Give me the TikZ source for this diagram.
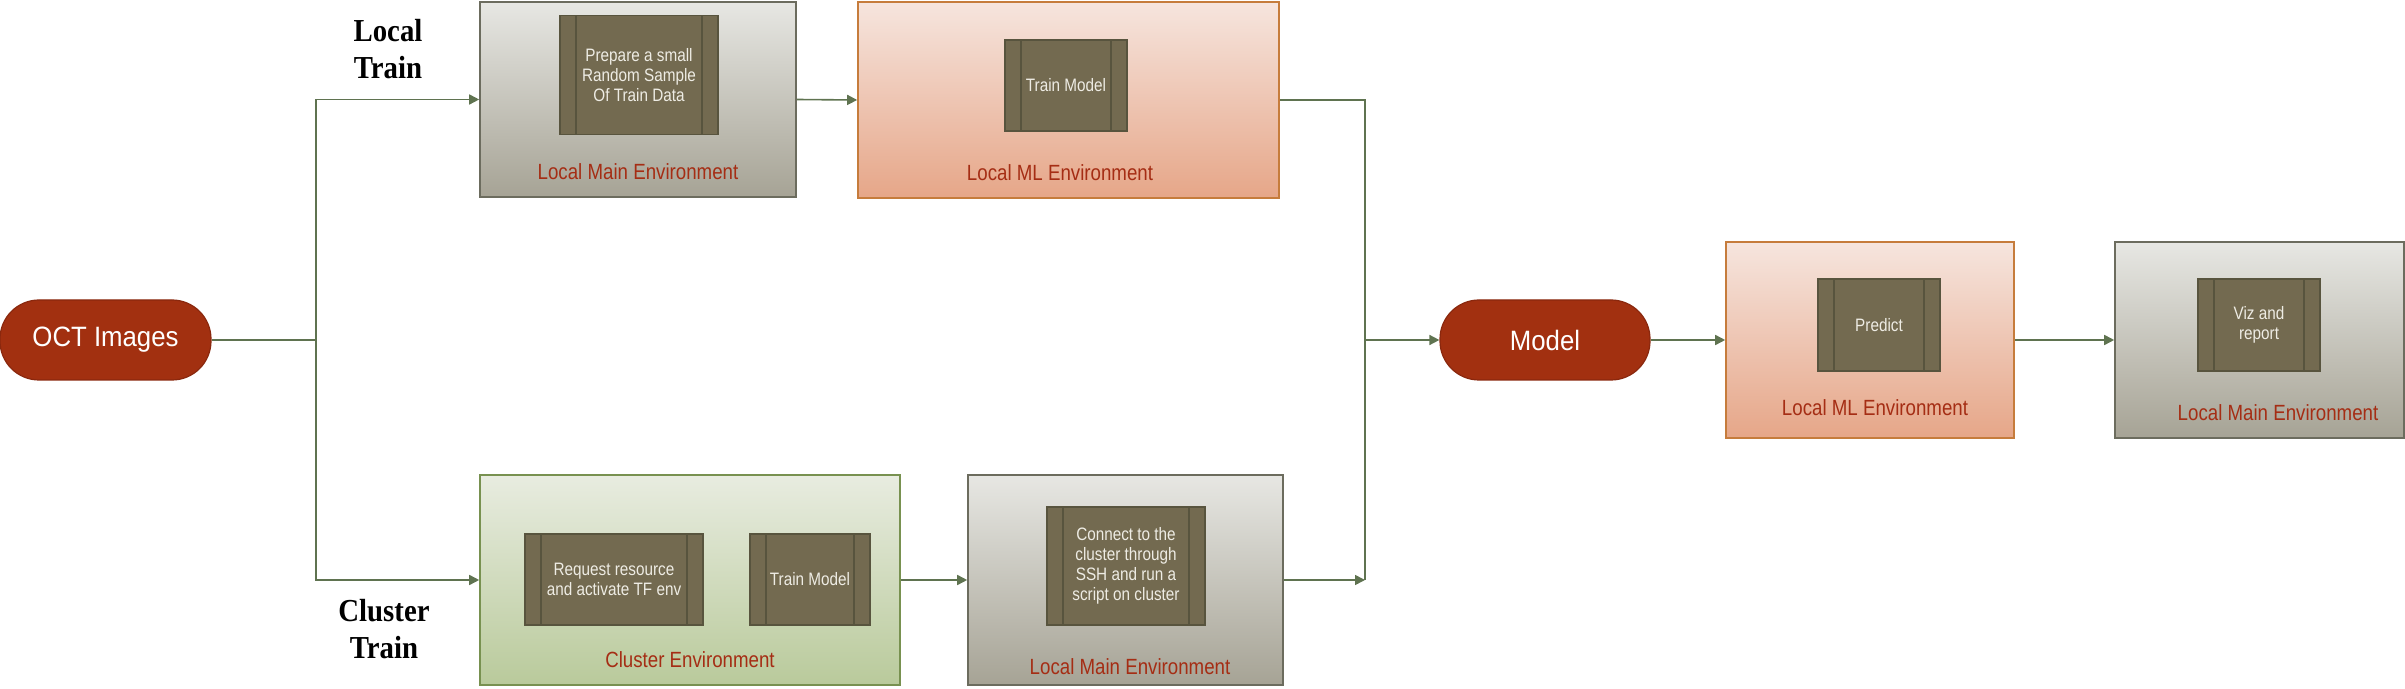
\documentclass[tikz,border=0pt]{standalone}
\usepackage{fontspec}
\setmainfont{Liberation Serif}
\newfontfamily\narrowsans[FakeStretch=0.85]{Liberation Sans}
\newfontfamily\capsulesans[FakeStretch=0.92]{Liberation Sans}
\newfontfamily\titleserif[FakeStretch=0.9]{Liberation Serif}
\usetikzlibrary{arrows.meta, positioning, calc}

\definecolor{flowline}{RGB}{95,115,80}
\definecolor{taskfill}{RGB}{115,106,80}
\definecolor{taskedge}{RGB}{88,84,62}
\definecolor{tasktext}{RGB}{238,236,228}
\definecolor{maintop}{RGB}{231,231,227}
\definecolor{mainbot}{RGB}{166,163,149}
\definecolor{mainedge}{RGB}{108,108,94}
\definecolor{mltop}{RGB}{246,229,222}
\definecolor{mlbot}{RGB}{230,166,136}
\definecolor{mledge}{RGB}{198,124,60}
\definecolor{cltop}{RGB}{232,236,224}
\definecolor{clbot}{RGB}{185,202,155}
\definecolor{cledge}{RGB}{120,145,80}
\definecolor{envred}{RGB}{165,45,20}
\definecolor{capsulefill}{RGB}{162,48,16}
\definecolor{capsuleedge}{RGB}{138,40,14}

\tikzset{
  envbox/.style={draw, line width=0.8pt, inner sep=0pt},
  mainenv/.style={envbox, draw=mainedge, top color=maintop, bottom color=mainbot},
  mlenv/.style={envbox, draw=mledge, top color=mltop, bottom color=mlbot},
  clusterenv/.style={envbox, draw=cledge, top color=cltop, bottom color=clbot},
  taskbox/.style={draw=taskedge, fill=taskfill, line width=0.7pt, inner sep=0pt,
    text=tasktext, align=center, font=\narrowsans\fontsize{9}{10}\selectfont,
    path picture={
      \draw[taskedge, line width=0.7pt] ([xshift=8pt]path picture bounding box.north west) -- ([xshift=8pt]path picture bounding box.south west);
      \draw[taskedge, line width=0.7pt] ([xshift=-8pt]path picture bounding box.north east) -- ([xshift=-8pt]path picture bounding box.south east);
    }},
  capsule/.style={draw=capsuleedge, fill=capsulefill, line width=0.6pt, rounded corners=19.5pt,
    inner sep=0pt, text=white, font=\capsulesans\fontsize{14}{16}\selectfont},
  envlabel/.style={text=envred, font=\narrowsans\fontsize{11}{13}\selectfont},
  branchlabel/.style={align=center, font=\titleserif\bfseries\fontsize{16}{18.5}\selectfont},
  flow/.style={draw=flowline, line width=0.8pt},
  flowarrow/.style={flow, -{Triangle[length=5pt, width=5pt]}},
}

\begin{document}
\begin{tikzpicture}[x=0.5pt, y=-0.5pt]
    \useasboundingbox (0,0) rectangle (2405,689);

    % Input
    \node[capsule, minimum width=105.5pt, minimum height=40pt] (oct) at (105.5,340) {OCT Images};

    % Local train branch
    \node[branchlabel] (localtrain) at (388,49) {Local\\Train};
    \node[mainenv, minimum width=158pt, minimum height=97.5pt] (lmain1) at (638,99.5) {};
    \node[taskbox, minimum width=79pt, minimum height=59.5pt] (sample) at (639,75) {Prepare a small\\Random Sample\\Of Train Data};
    \node[envlabel] (lmainlab1) at (638,172) {Local Main Environment};

    \node[mlenv, minimum width=210.5pt, minimum height=98pt] (lml1) at (1068.5,100) {};
    \node[taskbox, minimum width=61pt, minimum height=45.5pt] (trainloc) at (1066,85.5) {Train Model};
    \node[envlabel] (lmllab1) at (1060,173) {Local ML Environment};

    % Cluster train branch
    \node[branchlabel] (clustertrain) at (384,629) {Cluster\\Train};
    \node[clusterenv, minimum width=210pt, minimum height=105pt] (cenv) at (690,580) {};
    \node[taskbox, minimum width=89pt, minimum height=45.5pt] (request) at (614,579.5) {Request resource\\and activate TF env};
    \node[taskbox, minimum width=60pt, minimum height=45.5pt] (traincl) at (810,579.5) {Train Model};
    \node[envlabel] (cenvlab) at (690,660) {Cluster Environment};

    \node[mainenv, minimum width=157.5pt, minimum height=105pt] (lmain2) at (1125.5,580) {};
    \node[taskbox, minimum width=79pt, minimum height=59pt] (ssh) at (1126,566) {Connect to the\\cluster through\\SSH and run a\\script on cluster};
    \node[envlabel] (lmainlab2) at (1130,667) {Local Main Environment};

    % Output side
    \node[capsule, minimum width=105pt, minimum height=40pt] (model) at (1545,340) {Model};

    \node[mlenv, minimum width=144pt, minimum height=98pt] (lml2) at (1870,340) {};
    \node[taskbox, minimum width=61pt, minimum height=46pt] (predict) at (1879,325) {Predict};
    \node[envlabel] (lmllab2) at (1875,408) {Local ML Environment};

    \node[mainenv, minimum width=144.5pt, minimum height=98pt] (lmain3) at (2259.5,340) {};
    \node[taskbox, minimum width=61pt, minimum height=46pt] (viz) at (2259,325) {Viz and\\report};
    \node[envlabel] (lmainlab3) at (2278,413) {Local Main Environment};

    % Connectors
    \coordinate (split) at (316,340);
    \coordinate (merge) at (1365,340);
    \coordinate (mergebot) at (1365,580);
    \draw[flow] (oct.east) -- (split);
    \draw[flowarrow] (split) |- (lmain1.west);
    \draw[flowarrow] (split) |- (cenv.west);
    \draw[flowarrow] (lmain1.east) -- (lml1.west);
    \draw[flowarrow] (cenv.east) -- (lmain2.west);
    \draw[flow] (lml1.east) -| (mergebot);
    \draw[flowarrow] (lmain2.east) -- (mergebot);
    \draw[flowarrow] (merge) -- (model.west);
    \draw[flowarrow] (model.east) -- (lml2.west);
    \draw[flowarrow] (lml2.east) -- (lmain3.west);
\end{tikzpicture}
\end{document}
